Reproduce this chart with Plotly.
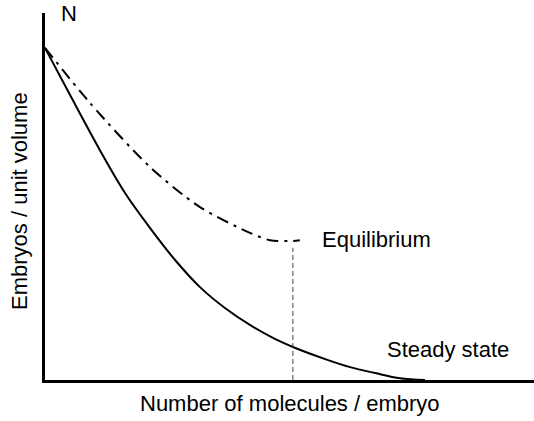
import plotly.graph_objects as go

# steady state curve (solid)
steady_x = [0, 5.1, 11.2, 16.4, 21.5, 26.6, 31.7, 36.8, 41.9, 47.0, 50.7, 57.3, 62.4, 67.5, 72.6, 77.7]
steady_y = [90.5, 77.7, 62.7, 50.9, 41.4, 32.7, 25.3, 19.6, 15.0, 11.2, 9.0, 5.7, 3.5, 1.9, 0.5, 0]

# equilibrium curve (dash-dot)
equil_x = [0, 9.2, 21.5, 31.7, 41.9, 46.0, 50.7, 52.1]
equil_y = [90.5, 75.5, 58.0, 47.1, 40.1, 38.1, 37.9, 38.1]

# vertical marker under the equilibrium minimum
marker_x = [50.7, 50.7]
marker_y = [0, 36]

font = dict(family="Liberation Sans, Arial, sans-serif", size=22, color="black")

fig = go.Figure()
fig.add_trace(go.Scatter(x=steady_x, y=steady_y, mode="lines",
                         line=dict(color="black", width=2, shape="spline", smoothing=1)))
fig.add_trace(go.Scatter(x=equil_x, y=equil_y, mode="lines",
                         line=dict(color="black", width=2, shape="spline", smoothing=0.8,
                                   dash="12px,6px,3px,6px")))
fig.add_trace(go.Scatter(x=marker_x, y=marker_y, mode="lines",
                         line=dict(color="#444", width=1, dash="5px,3px")))

fig.add_annotation(x=56.2, y=38.4, text="Equilibrium", showarrow=False,
                   xanchor="left", yanchor="middle", font=font)
fig.add_annotation(x=69.5, y=8.4, text="Steady state", showarrow=False,
                   xanchor="left", yanchor="middle", font=font)
fig.add_annotation(x=0.049, y=0.998, xref="paper", yref="paper", text="N",
                   showarrow=False, xanchor="center", yanchor="middle", font=font)
fig.add_annotation(x=0.5, y=-0.063, xref="paper", yref="paper",
                   text="Number of molecules / embryo", showarrow=False,
                   xanchor="center", yanchor="middle", font=font)
fig.add_annotation(x=-0.051, y=0.488, xref="paper", yref="paper",
                   text="Embryos / unit volume", showarrow=False, textangle=-90,
                   xanchor="center", yanchor="middle", font=font)

fig.update_xaxes(range=[0, 100], showline=True, linecolor="black", linewidth=2.5,
                 showgrid=False, zeroline=False, showticklabels=False, ticks="")
fig.update_yaxes(range=[0, 100], showline=True, linecolor="black", linewidth=2.5,
                 showgrid=False, zeroline=False, showticklabels=False, ticks="")
fig.update_layout(width=534, height=421, showlegend=False, hovermode=False,
                  plot_bgcolor="white", paper_bgcolor="white",
                  margin=dict(l=45, r=0, t=13, b=41))
# drop the page's default body margin so the figure sits at the window corner
fig.write_html("out.html", config={"displayModeBar": False},
               post_script="document.body.style.margin='0';")
